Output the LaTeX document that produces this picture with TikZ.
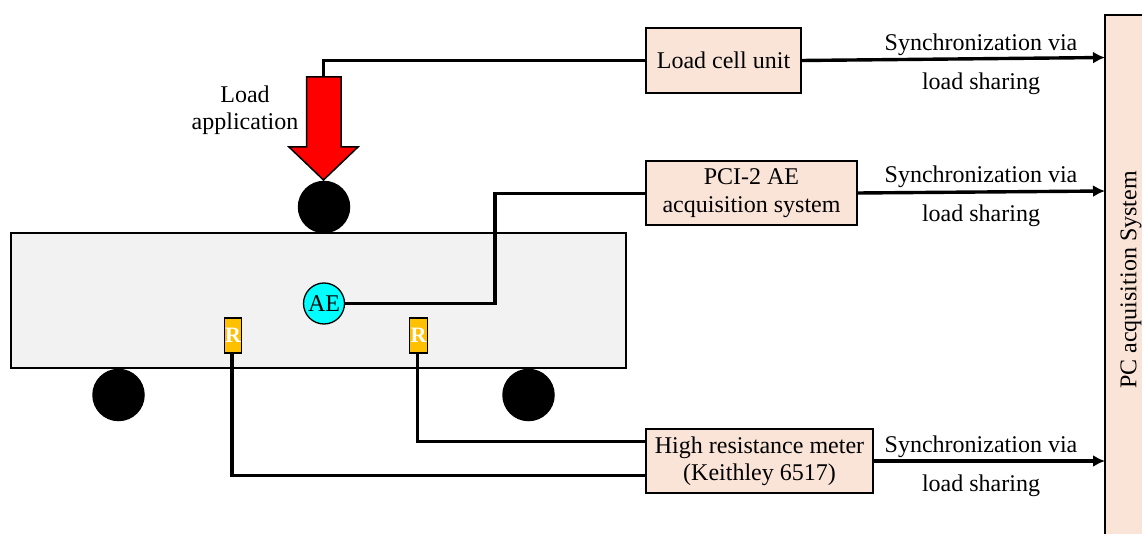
\documentclass[tikz,border=0pt]{standalone}
\usepackage{fontspec}
\setmainfont{Liberation Serif}
\definecolor{peach}{HTML}{FAE4D8}
\definecolor{beamgrey}{HTML}{F2F2F2}
\definecolor{gaugeorange}{HTML}{FFC000}
\definecolor{sensorcyan}{HTML}{00FFFF}
\usetikzlibrary{arrows.meta}
\tikzset{
  x=1pt,y=-1pt,
  unit/.style={draw=black,line width=1.6pt,fill=peach,align=center,inner sep=0pt,font=\fontsize{24}{27}\selectfont},
  caption/.style={inner sep=0pt,align=center,font=\fontsize{24}{27}\selectfont},
  roller/.style={circle,fill=black,inner sep=0pt,minimum size=52.5pt},
  gauge/.style={draw=black,line width=1.3pt,fill=gaugeorange,text=white,inner sep=0pt,minimum width=17.5pt,minimum height=35pt,font=\bfseries\fontsize{22}{24}\selectfont},
  wire/.style={line width=3.4pt,draw=black},
  feed/.style={line width=3.4pt,draw=black,-{Latex[length=12pt,width=12pt]}}
}
\begin{document}
\begin{tikzpicture}
\useasboundingbox (0,0) rectangle (1142,534);
\clip (0,0) rectangle (1142,534);
% beam and supports
\node[draw=black,line width=1.4pt,fill=beamgrey,minimum width=615pt,minimum height=135pt,inner sep=0pt] (beam) at (318.5,300.5) {};
\node[roller] (rtop) at (324,207) {};
\node[roller] (rleft) at (118.5,395) {};
\node[roller] (rright) at (528.5,395) {};
% instruments
\node[unit,minimum width=155pt,minimum height=65pt] (cell) at (723.5,60.5) {Load cell unit};
\node[unit,minimum width=211pt,minimum height=64pt] (pci) at (751.5,193) {\raisebox{-2pt}{PCI-2 AE}\\[1pt]\raisebox{-2pt}{acquisition system}};
\node[unit,minimum width=227pt,minimum height=64pt] (meter) at (759.5,461) {\raisebox{-1pt}{High resistance meter}\\\raisebox{-1pt}{(Keithley 6517)}};
\node[unit,rotate=90,minimum width=530pt,minimum height=52pt] (pc) at (1131,280) {PC acquisition System};
% sensors
\node[draw=black,line width=1.3pt,fill=sensorcyan,circle,inner sep=0pt,minimum size=41pt,font=\fontsize{24}{27}\selectfont] (ae) at (324,303.5) {AE};
\node[gauge] (g1) at (233,335.5) {R};
\node[gauge] (g2) at (418.5,335.5) {R};
% load arrow
\coordinate (arrowtop) at (323.5,77);
\draw[line width=1.5pt,fill=red,line join=miter] (306.5,77) -- (341,77) -- (341,147) -- (358,147) -- (323.5,180) -- (289,147) -- (306.5,147) -- cycle;
\node[caption] (loadlabel) at (245,110.5) {Load\\application};
% wires
\coordinate (c1) at (323.5,60.7);
\draw[wire] (cell.west |- c1) -- (c1) -- (arrowtop);
\coordinate (c2) at (495,303.5);
\coordinate (c3) at (495,193.5);
\draw[wire] (ae.east) -- (c2) -- (c3) -- (pci.west |- c3);
\coordinate (c4) at (417.5,441.5);
\draw[wire] (g2.south -| c4) -- (c4) -- (c4 -| meter.west);
\coordinate (c5) at (232,475.5);
\draw[wire] (g1.south -| c5) -- (c5) -- (c5 -| meter.west);
% feeds
\coordinate (p1) at (1105,57.5);
\coordinate (p2) at (1105,191);
\coordinate (p3) at (1105,461);
\draw[feed] (cell.east) -- (p1);
\draw[feed] (pci.east) -- (p2);
\draw[feed] (meter.east) -- (p3);
\node[caption] (s1a) at (981,44.5) {Synchronization via};
\node[caption] (s1b) at (981,83.5) {load sharing};
\node[caption] (s2a) at (981,176.5) {Synchronization via};
\node[caption] (s2b) at (981,215.5) {load sharing};
\node[caption] (s3a) at (981,446.5) {Synchronization via};
\node[caption] (s3b) at (981,485.5) {load sharing};
\end{tikzpicture}
\end{document}
